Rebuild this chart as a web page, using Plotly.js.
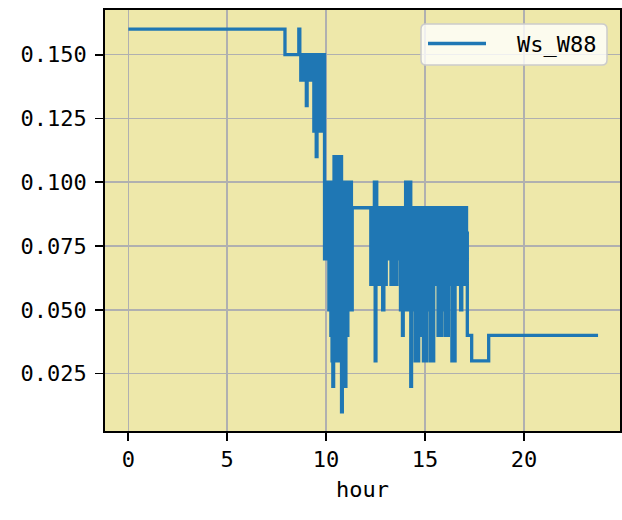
<!DOCTYPE html>
<html><head><meta charset="utf-8">
<script src="https://cdn.plot.ly/plotly-3.0.1.min.js"></script>
<style>html,body{margin:0;padding:0;background:#fff}#chart{width:622px;height:520px}</style>
</head><body><div id="chart"></div>
<script>
const seriesName = 'Ws_W88';
const xTitle = 'hour';
const hour = [
  0, 7.92, 8.62, 8.67, 8.72, 8.78, 8.84, 8.90, 8.96, 9.00,
  9.04, 9.10, 9.16, 9.22, 9.28, 9.34, 9.38, 9.44, 9.50, 9.54,
  9.60, 9.66, 9.72, 9.78, 9.84, 9.88, 9.92, 9.96, 10.02, 10.08,
  10.14, 10.20, 10.24, 10.28, 10.30, 10.34, 10.38, 10.40, 10.44, 10.50,
  10.54, 10.58, 10.62, 10.66, 10.70, 10.74, 10.78, 10.82, 10.86, 10.92,
  10.95, 11.00, 11.04, 11.10, 11.16, 11.22, 11.28, 11.32, 12.26, 12.32,
  12.38, 12.44, 12.48, 12.52, 12.56, 12.62, 12.68, 12.74, 12.80, 12.86,
  12.92, 12.98, 13.04, 13.10, 13.16, 13.22, 13.28, 13.34, 13.40, 13.46,
  13.52, 13.58, 13.64, 13.70, 13.76, 13.82, 13.86, 13.90, 13.96, 14.02,
  14.08, 14.14, 14.20, 14.24, 14.28, 14.32, 14.38, 14.44, 14.50, 14.56,
  14.62, 14.68, 14.74, 14.80, 14.86, 14.92, 14.98, 15.04, 15.10, 15.16,
  15.22, 15.28, 15.34, 15.38, 15.44, 15.48, 15.54, 15.60, 15.66, 15.72,
  15.78, 15.84, 15.90, 15.96, 16.02, 16.08, 16.12, 16.18, 16.24, 16.30,
  16.36, 16.42, 16.46, 16.52, 16.58, 16.64, 16.70, 16.76, 16.80, 16.86,
  16.92, 16.98, 17.02, 17.06, 17.10, 17.14, 17.36, 18.22, 23.75
];
const ws_w88 = [
  0.16, 0.15, 0.16, 0.15, 0.14, 0.15, 0.14, 0.15, 0.14, 0.13,
  0.15, 0.14, 0.15, 0.14, 0.15, 0.14, 0.12, 0.15, 0.11, 0.15,
  0.12, 0.15, 0.12, 0.14, 0.12, 0.15, 0.07, 0.10, 0.07, 0.10,
  0.05, 0.10, 0.04, 0.10, 0.03, 0.02, 0.10, 0.11, 0.03, 0.11,
  0.04, 0.10, 0.03, 0.11, 0.04, 0.11, 0.01, 0.10, 0.04, 0.10,
  0.02, 0.10, 0.04, 0.10, 0.05, 0.10, 0.05, 0.09, 0.06, 0.09,
  0.06, 0.10, 0.03, 0.10, 0.06, 0.09, 0.06, 0.09, 0.06, 0.05,
  0.09, 0.06, 0.09, 0.07, 0.09, 0.07, 0.06, 0.09, 0.06, 0.09,
  0.06, 0.09, 0.07, 0.09, 0.05, 0.09, 0.04, 0.09, 0.05, 0.10,
  0.05, 0.10, 0.05, 0.10, 0.02, 0.09, 0.05, 0.09, 0.03, 0.09,
  0.03, 0.09, 0.04, 0.09, 0.04, 0.03, 0.09, 0.03, 0.05, 0.09,
  0.05, 0.03, 0.09, 0.03, 0.09, 0.06, 0.09, 0.06, 0.04, 0.09,
  0.04, 0.09, 0.05, 0.09, 0.04, 0.09, 0.04, 0.06, 0.09, 0.06,
  0.03, 0.09, 0.03, 0.06, 0.09, 0.06, 0.09, 0.06, 0.05, 0.09,
  0.07, 0.09, 0.06, 0.09, 0.08, 0.04, 0.03, 0.04, 0.04
];
const xTickVals = [0, 5, 10, 15, 20];
const yTickVals = [0.025, 0.050, 0.075, 0.100, 0.125, 0.150];
const yTickText = ['0.025', '0.050', '0.075', '0.100', '0.125', '0.150'];

const FONT = 'DejaVu Sans Mono, monospace';
const FS = 22;
const LINE_COLOR = '#1f77b4';
const M = {l: 105, r: 2, t: 10, b: 89};
const W = 622, H = 520;
const PW = W - M.l - M.r, PH = H - M.t - M.b;
const px = x => (x - M.l) / PW;
const py = y => (H - M.b - y) / PH;

// legend box (pixel geometry -> paper)
const bx0 = px(421), bx1 = px(607), by1 = py(24), by0 = py(65);
const rx = 5 / PW, ry = 5 / PH;
const boxPath = `M${bx0+rx},${by1} L${bx1-rx},${by1} Q${bx1},${by1} ${bx1},${by1-ry} L${bx1},${by0+ry} Q${bx1},${by0} ${bx1-rx},${by0} L${bx0+rx},${by0} Q${bx0},${by0} ${bx0},${by0+ry} L${bx0},${by1-ry} Q${bx0},${by1} ${bx0+rx},${by1} Z`;

const trace = {
  x: hour, y: ws_w88, type: 'scatter', mode: 'lines', name: seriesName,
  line: {color: LINE_COLOR, width: 3.3, shape: 'hv'}, showlegend: false
};

const axisCommon = {
  showgrid: true, gridcolor: '#b0b0b0', gridwidth: 1.6,
  showline: true, linecolor: '#000', linewidth: 1.8, mirror: true,
  ticks: 'outside', ticklen: 8, tickwidth: 1.8, tickcolor: '#000',
  zeroline: false, tickfont: {family: FONT, size: FS, color: '#000'}
};

const layout = {
  width: W, height: H, margin: M,
  paper_bgcolor: '#ffffff', plot_bgcolor: '#eee8aa',
  font: {family: FONT, size: FS, color: '#000'},
  xaxis: Object.assign({}, axisCommon, {
    range: [-1.18, 24.86], tickvals: xTickVals, ticktext: xTickVals.map(String),
    title: {text: xTitle, font: {family: FONT, size: FS, color: '#000'}, standoff: 10},
    automargin: false
  }),
  yaxis: Object.assign({}, axisCommon, {
    range: [0.0025, 0.1675], tickvals: yTickVals, ticktext: yTickText,
    ticklabelstandoff: 4, automargin: false
  }),
  shapes: [
    {type: 'path', xref: 'paper', yref: 'paper', path: boxPath,
     fillcolor: 'rgba(255,255,255,0.8)', line: {color: '#cccccc', width: 1.5}, layer: 'above'},
    {type: 'line', xref: 'paper', yref: 'paper', x0: px(428), x1: px(486), y0: py(43.5), y1: py(43.5),
     line: {color: LINE_COLOR, width: 3.3}, layer: 'above'}
  ],
  annotations: [
    {xref: 'paper', yref: 'paper', x: px(515), y: py(44), xanchor: 'left', yanchor: 'middle',
     text: seriesName, showarrow: false, font: {family: FONT, size: FS, color: '#000'}}
  ]
};

Plotly.newPlot('chart', [trace], layout, {displayModeBar: false, staticPlot: true});
</script>
</body></html>
